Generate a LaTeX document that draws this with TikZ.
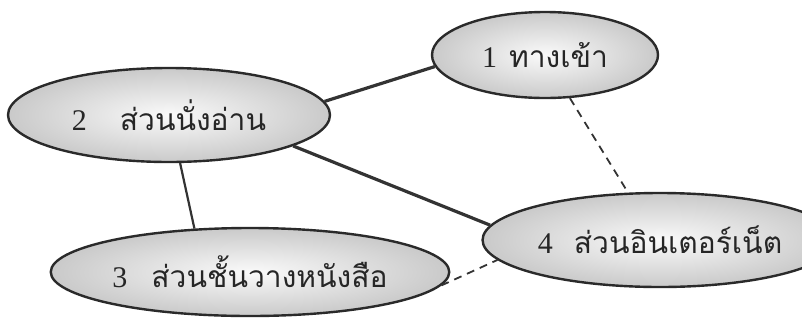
\documentclass[tikz,border=0pt]{standalone}
\usepackage{fontspec}
\setmainfont{Liberation Serif}
\newfontfamily\thaifont[Script=Thai]{Loma}
\usetikzlibrary{shapes.geometric,positioning}
\definecolor{rimgray}{HTML}{2A2A2A}
\definecolor{linkgray}{HTML}{333333}
\tikzset{
  zonenode/.style={ellipse,draw=rimgray,line width=2.4pt,inner color=gray!4,outer color=gray!42,font=\fontsize{30}{36}\selectfont,text=black!85},
  solidlink/.style={draw=linkgray,line width=3.2pt},
  dashlink/.style={draw=linkgray,line width=1.8pt,dash pattern=on 8pt off 6pt},
}
\begin{document}
\begin{tikzpicture}[x=1pt,y=-1pt]
  \useasboundingbox (0,0) rectangle (802,327);
  \node[zonenode,minimum width=226pt,minimum height=86pt] (entrance) at (545,55) {1\hspace{0.4em}{\thaifont ทางเข้า}};
  \node[zonenode,minimum width=322pt,minimum height=94pt] (reading) at (169,115) {2\hspace{1.1em}{\thaifont ส่วนนั่งอ่าน}};
  \node[zonenode,minimum width=360pt,minimum height=88pt] (shelf) at (250,272) {3\hspace{0.8em}{\thaifont ส่วนชั้นวางหนังสือ}};
  \node[zonenode,minimum width=276pt,minimum height=94pt] (internet) at (660,240) {4\hspace{0.7em}{\thaifont ส่วนอินเตอร์เน็ต}};
  % links between zones
  \draw[solidlink] (reading.5) -- (entrance.186);
  \draw[solidlink] (reading.346) -- (internet.175);
  \draw[solidlink,line width=2.2pt] (reading.283) -- (shelf.142);
  \draw[dashlink] (entrance.300) -- (internet.124);
  \draw[dashlink] (shelf.356) -- (internet.187);
\end{tikzpicture}
\end{document}
